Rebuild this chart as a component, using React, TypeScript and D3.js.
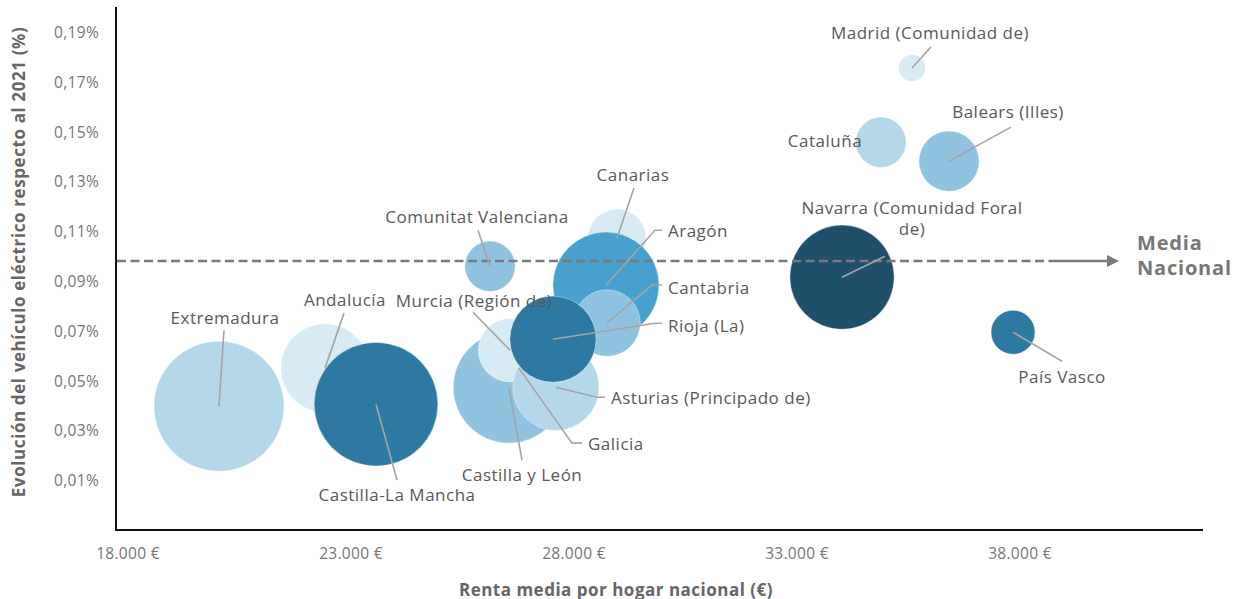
import React from "react";
import * as d3 from "d3";

// ---- data ----
const regions = [
  "Extremadura", "Andalucía", "Castilla-La Mancha", "Canarias", "Aragón", "Cantabria",
  "Galicia", "Castilla y León", "Murcia (Región de)", "Asturias (Principado de)", "Rioja (La)",
  "Comunitat Valenciana", "Navarra (Comunidad Foral de)", "Madrid (Comunidad de)", "Cataluña",
  "Balears (Illes)", "País Vasco",
];
const renta = [
  20040, 22417, 23561, 28964, 28717, 28740,
  26767, 26543, 26565, 27596, 27529,
  26117, 34009, 35578, 34883,
  36408, 37843,
];
const evolucion = [
  0.0397, 0.055, 0.0405, 0.1072, 0.0883, 0.0731,
  0.055, 0.0473, 0.0622, 0.0473, 0.0666,
  0.0959, 0.0915, 0.1755, 0.1457,
  0.1381, 0.0694,
];
const bubbleSize = [
  42, 19.5, 38, 8.4, 28, 11,
  6, 31, 10, 18.5, 18.5,
  6.3, 27, 1.8, 6.3,
  9, 4.8,
];
const mediaNacional = 0.098;
const xTicks = [18000, 23000, 28000, 33000, 38000];
const yTicks = [0.01, 0.03, 0.05, 0.07, 0.09, 0.11, 0.13, 0.15, 0.17, 0.19];

// ---- styling / layout ----
const shade: Record<string, string> = {
  Extremadura: "#b4d8ea",
  "Andalucía": "#d8eaf4",
  "Castilla-La Mancha": "#2d79a1",
  Canarias: "#d8eaf4",
  "Aragón": "#47a0cd",
  Cantabria: "#8fc3e0",
  Galicia: "#b4d8ea",
  "Castilla y León": "#8fc3e0",
  "Murcia (Región de)": "#d8eaf4",
  "Asturias (Principado de)": "#b4d8ea",
  "Rioja (La)": "#2d79a1",
  "Comunitat Valenciana": "#8fc3e0",
  "Navarra (Comunidad Foral de)": "#1e4f6b",
  "Madrid (Comunidad de)": "#d8eaf4",
  "Cataluña": "#b4d8ea",
  "Balears (Illes)": "#8fc3e0",
  "País Vasco": "#2d79a1",
};

type Lab = { dx: number; dy: number; anchor: string; lines?: string[]; leader?: [number, number][] };
const labels: Record<string, Lab> = {
  Extremadura: { dx: 6, dy: -89, anchor: "middle", leader: [[5, -76]] },
  "Andalucía": { dx: 20, dy: -69, anchor: "middle", leader: [[19, -55]] },
  "Castilla-La Mancha": { dx: 21, dy: 90, anchor: "middle", leader: [[21, 76]] },
  "Castilla y León": { dx: 13, dy: 87, anchor: "middle", leader: [[13, 73]] },
  "Murcia (Región de)": { dx: -36, dy: -50, anchor: "middle", leader: [[-37, -38]] },
  Galicia: { dx: 69, dy: 75, anchor: "start", leader: [[53, 75], [63, 75]] },
  "Asturias (Principado de)": { dx: 55, dy: 10, anchor: "start", leader: [[41, 10], [49, 10]] },
  "Rioja (La)": { dx: 115, dy: -14, anchor: "start", leader: [[102, -16], [109, -16]] },
  Cantabria: { dx: 61, dy: -36, anchor: "start", leader: [[45, -38], [55, -38]] },
  "Aragón": { dx: 62, dy: -55, anchor: "start", leader: [[49, -55], [56, -55]] },
  Canarias: { dx: 16, dy: -64, anchor: "middle", leader: [[17, -50]] },
  "Comunitat Valenciana": { dx: -13, dy: -50, anchor: "middle", leader: [[-12, -36]] },
  "Navarra (Comunidad Foral de)": { dx: 70, dy: -70, anchor: "middle", lines: ["Navarra (Comunidad Foral", "de)"], leader: [[43, -21]] },
  "Madrid (Comunidad de)": { dx: 18, dy: -36, anchor: "middle", leader: [[19, -21]] },
  "Cataluña": { dx: -56, dy: -2, anchor: "middle" },
  "Balears (Illes)": { dx: 59, dy: -50, anchor: "middle", leader: [[62, -34]] },
  "País Vasco": { dx: 49, dy: 44, anchor: "middle", leader: [[49, 29]] },
};

const W = 1246;
const H = 599;
const left = 116, right = 1203, top = 7, bottom = 530;

const fmtEur = (v: number) => d3.format(",")(v).replace(/,/g, ".") + " €";
const fmtPct = (v: number) => v.toFixed(2).replace(".", ",") + "%";

export default function App() {
  const x = d3.scaleLinear().domain([17731, 42103]).range([left, right]);
  const y = d3.scaleLinear().domain([-0.01, 0.2]).range([bottom, top]);
  const r = d3.scaleSqrt().domain([0, 42]).range([0, 65]);

  const data = regions.map((name, i) => ({
    name,
    cx: x(renta[i]),
    cy: y(evolucion[i]),
    rr: r(bubbleSize[i]),
  }));

  const yMed = y(mediaNacional);
  const dashEnd = 1054;
  const arrowTip = 1119;
  const font = "'Open Sans', 'Noto Sans', sans-serif";
  const labelColor = "#595959";
  const tickColor = "#767676";

  return (
    <svg width={W} height={H} style={{ position: "absolute", left: 0, top: 0, background: "#fff" }}>
      {data.map((d) => (
        <circle key={d.name} cx={d.cx} cy={d.cy} r={d.rr} fill={shade[d.name]} stroke="#ffffff" strokeOpacity={0.5} strokeWidth={0.8} />
      ))}

      <line x1={left} y1={top} x2={left} y2={bottom + 1} stroke="#111" strokeWidth={2} />
      <line x1={left - 1} y1={bottom} x2={right} y2={bottom} stroke="#111" strokeWidth={2} />

      {yTicks.map((t) => (
        <text key={t} x={99} y={y(t)} textAnchor="end" dominantBaseline="central" fontFamily={font} fontSize={15.5} letterSpacing={0.3} fill={tickColor}>
          {fmtPct(t)}
        </text>
      ))}
      {xTicks.map((t) => (
        <text key={t} x={x(t)} y={553} textAnchor="middle" dominantBaseline="central" fontFamily={font} fontSize={15.5} letterSpacing={0.3} fill={tickColor}>
          {fmtEur(t)}
        </text>
      ))}

      <text x={616} y={589} textAnchor="middle" dominantBaseline="central" fontFamily={font} fontWeight={700} fontSize={17} letterSpacing={0.5} fill="#666">
        Renta media por hogar nacional (€)
      </text>
      <text transform={`translate(18, 262) rotate(-90)`} textAnchor="middle" dominantBaseline="central" fontFamily={font} fontWeight={700} fontSize={17} letterSpacing={0.6} fill="#666">
        Evolución del vehículo eléctrico respecto al 2021 (%)
      </text>

      <line x1={left + 1} y1={yMed} x2={dashEnd} y2={yMed} stroke="#7a7a7a" strokeWidth={2.5} strokeDasharray="9 4.5" />
      <line x1={dashEnd} y1={yMed} x2={arrowTip - 10} y2={yMed} stroke="#7a7a7a" strokeWidth={2.5} />
      <path d={`M${arrowTip},${yMed} L${arrowTip - 12},${yMed - 6} L${arrowTip - 12},${yMed + 6} Z`} fill="#7a7a7a" />
      <text x={1137} y={242} dominantBaseline="central" fontFamily={font} fontWeight={700} fontSize={20} letterSpacing={0.8} fill="#777">Media</text>
      <text x={1137} y={267} dominantBaseline="central" fontFamily={font} fontWeight={700} fontSize={20} letterSpacing={0.8} fill="#777">Nacional</text>

      {data.map((d) => {
        const l = labels[d.name];
        if (!l) return null;
        const pts: [number, number][] = [[d.cx, d.cy], ...(l.leader || []).map(([a, b]) => [d.cx + a, d.cy + b] as [number, number])];
        const lines = l.lines || [d.name];
        return (
          <g key={d.name}>
            {l.leader && (
              <path d={d3.line()(pts) || ""} fill="none" stroke="#a5a5a5" strokeWidth={1.6} />
            )}
            {lines.map((t, i) => (
              <text key={i} x={d.cx + l.dx} y={d.cy + l.dy + i * 21} textAnchor={l.anchor as any} dominantBaseline="central" fontFamily={font} fontSize={17} letterSpacing={0.5} fill={labelColor}>
                {t}
              </text>
            ))}
          </g>
        );
      })}
    </svg>
  );
}
